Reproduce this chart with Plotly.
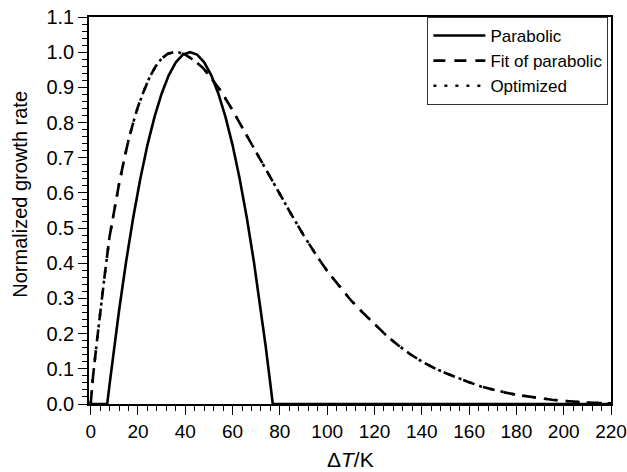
import plotly.graph_objects as go

# Parabolic growth rate (solid)
para_x = [0, 7, 8, 10, 12, 15, 18, 21, 24, 27, 30, 33, 36, 39, 42, 45, 48, 51, 54, 57,
          60, 63, 66, 69, 72, 74, 76, 77, 220]
para_y = [0.0, 0.0, 0.056, 0.164, 0.265, 0.405, 0.530, 0.640, 0.736, 0.816, 0.882, 0.934,
          0.971, 0.993, 1.000, 0.993, 0.971, 0.934, 0.882, 0.816, 0.736, 0.640, 0.530,
          0.405, 0.265, 0.164, 0.056, 0.0, 0.0]

# Fit of parabolic (dashed) and Optimized (dotted)
fit_x = [0, 1, 2.5, 4, 6, 8, 10, 12, 14, 16, 18, 20, 22.5, 25, 27.5, 30, 32.5, 35, 37.5,
         40, 42.5, 45, 47.5, 50, 55, 60, 65, 70, 75, 80, 85, 90, 95, 100, 105, 110, 115,
         120, 125, 130, 135, 140, 145, 150, 155, 160, 165, 170, 175, 180, 185, 190, 195,
         200, 205, 210, 215, 220]
fit_y = [0.0, 0.078, 0.17, 0.26, 0.37, 0.476, 0.555, 0.625, 0.69, 0.75, 0.80, 0.845, 0.89,
         0.93, 0.96, 0.982, 0.995, 1.0, 0.999, 0.993, 0.982, 0.97, 0.955, 0.935, 0.89,
         0.835, 0.775, 0.715, 0.655, 0.595, 0.537, 0.48, 0.427, 0.378, 0.335, 0.295, 0.26,
         0.226, 0.195, 0.167, 0.142, 0.121, 0.103, 0.088, 0.074, 0.062, 0.050, 0.041,
         0.033, 0.026, 0.021, 0.016, 0.012, 0.009, 0.006, 0.004, 0.003, 0.002]
opt_x = list(fit_x)
opt_y = [0.0, 0.078, 0.17, 0.26, 0.37, 0.476, 0.555, 0.625, 0.69, 0.75, 0.80, 0.845, 0.89,
         0.93, 0.96, 0.982, 0.995, 1.0, 0.999, 0.993, 0.982, 0.97, 0.955, 0.935, 0.89,
         0.835, 0.775, 0.715, 0.655, 0.595, 0.537, 0.48, 0.427, 0.378, 0.335, 0.295, 0.26,
         0.226, 0.195, 0.167, 0.142, 0.121, 0.103, 0.088, 0.074, 0.062, 0.050, 0.041,
         0.033, 0.026, 0.021, 0.016, 0.012, 0.009, 0.006, 0.004, 0.003, 0.002]

FONT = "Liberation Sans, Arial, Helvetica, sans-serif"

fig = go.Figure()
fig.add_trace(go.Scatter(x=para_x, y=para_y, mode="lines", name="Parabolic",
                         line=dict(color="black", width=2.6)))
fig.add_trace(go.Scatter(x=fit_x, y=fit_y, mode="lines", name="Fit of parabolic",
                         line=dict(color="black", width=2.6, dash="12px,9px")))
fig.add_trace(go.Scatter(x=opt_x, y=opt_y, mode="lines", name="Optimized",
                         line=dict(color="black", width=2.6, dash="3px,8px")))

axis_common = dict(showline=True, linecolor="black", linewidth=1.5, mirror=True,
                   ticks="outside", tickcolor="black", tickwidth=1.3, ticklen=9,
                   showgrid=False, zeroline=False, automargin=False)

fig.update_xaxes(range=[-0.7, 220], tick0=0, dtick=20,
                 tickfont=dict(family=FONT, size=19, color="black"),
                 minor=dict(ticks="outside", dtick=4, ticklen=5, tickcolor="black",
                            tickwidth=1.2, showgrid=False),
                 **axis_common)
fig.update_yaxes(range=[0, 1.1], tick0=0, dtick=0.1, tickformat=".1f",
                 tickfont=dict(family=FONT, size=20, color="black"),
                 minor=dict(ticks="outside", dtick=0.02, ticklen=5, tickcolor="black",
                            tickwidth=1.2, showgrid=False),
                 **axis_common)

fig.add_annotation(text="Normalized growth rate", xref="paper", yref="paper",
                   x=-0.132, y=0.541, xanchor="center", yanchor="middle",
                   textangle=-90, showarrow=False,
                   font=dict(family=FONT, size=20, color="black"))
fig.add_annotation(text="Δ<i>T</i>/K", xref="paper", yref="paper",
                   x=0.5, y=-0.144, xanchor="center", yanchor="middle",
                   showarrow=False, font=dict(family=FONT, size=21, color="black"))

fig.update_layout(
    width=627, height=472,
    margin=dict(l=89, r=16, t=17, b=68),
    plot_bgcolor="white", paper_bgcolor="white",
    font=dict(family=FONT, color="black"),
    legend=dict(x=0.995, y=1, xanchor="right", yanchor="top",
                bgcolor="white", bordercolor="#333", borderwidth=1,
                font=dict(family=FONT, size=17, color="black"),
                tracegroupgap=0, itemwidth=52),
    showlegend=True,
)

fig.write_html("out.html", config={"displayModeBar": False},
               post_script="document.body.style.margin='0';document.body.style.overflow='hidden';")
